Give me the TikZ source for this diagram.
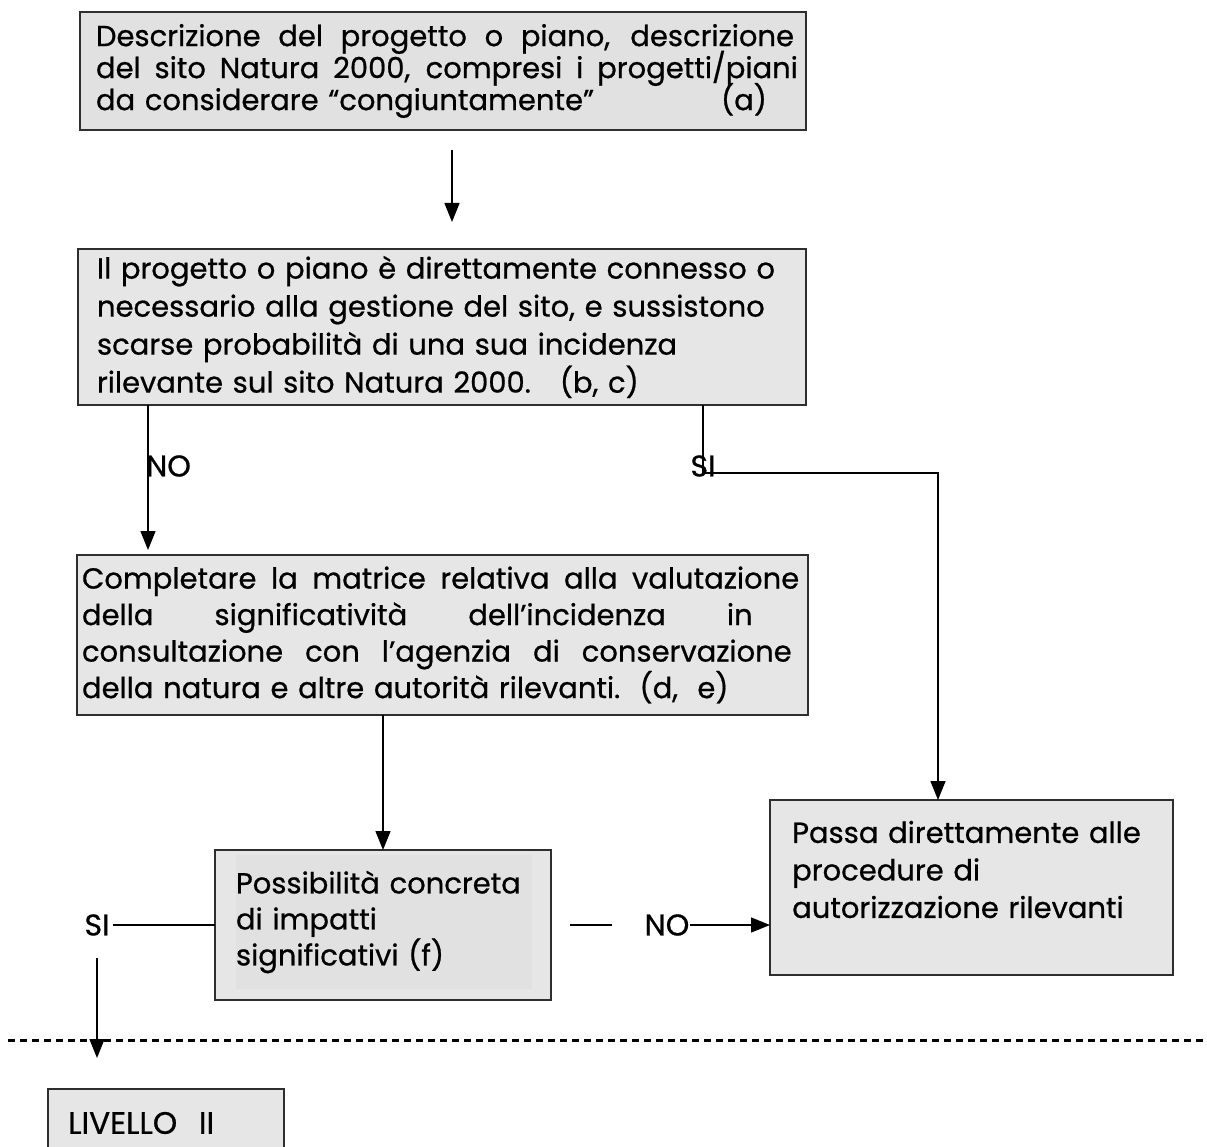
\documentclass[tikz,border=0pt]{standalone}
\usepackage{fontspec}
\setmainfont{Poppins}[FakeBold=0.7]
\usetikzlibrary{arrows.meta}
\definecolor{boxfill}{HTML}{E6E6E6}
\definecolor{innerfill}{HTML}{E1E1E1}
\definecolor{boxline}{HTML}{2E2E2E}
\newcommand{\jline}[2]{\makebox[#1][l]{\spaceskip=\fontdimen2\font plus 1fil\relax #2}}
\newcommand{\fs}[2]{\fontsize{#1}{#2}\selectfont\lineskiplimit=-100pt\relax}
\begin{document}
\begin{tikzpicture}[x=1pt,y=-1pt,
  box/.style={draw=boxline, line width=1.6pt, fill=boxfill, inner sep=0pt, align=left},
  conn/.style={line width=1.4pt, draw=black},
  arr/.style={conn, -{Triangle[width=15pt,length=19pt]}},
  lbl/.style={inner sep=0pt, font=\fs{30}{34}},
  txt/.style={inner sep=0pt, align=left}
]
\path[use as bounding box, clip] (0,0) rectangle (1207,1147);
\fill[white] (0,0) rectangle (1207,1147);

% boxes
\node[box, minimum width=726pt, minimum height=118pt, text width=702pt,
  font=\fs{29}{32}, fill=innerfill] (b1) at (443,71)
 {\hspace*{4pt}\jline{708pt}{Descrizione del progetto o piano, descrizione}\\
  \hspace*{4pt}\jline{708pt}{del sito Natura 2000, compresi i progetti/piani}\\
  \hspace*{4pt}\makebox[625pt][l]{da considerare “congiuntamente”}(a)};

\node[box, minimum width=728pt, minimum height=156pt, text width=690pt,
  font=\fs{29}{38}] (b2) at (442,327)
 {Il progetto o piano è direttamente connesso o\\
  necessario alla gestione del sito, e sussistono\\
  scarse probabilità di una sua incidenza\\
  rilevante sul sito Natura 2000.\ \ \ (b, c)};

\node[box, minimum width=731pt, minimum height=160pt, text width=718pt,
  font=\fs{29}{36.5}] (b3) at (442.5,635)
 {\hspace*{-1.5pt}\jline{724pt}{Completare la matrice relativa alla valutazione}\\
  \hspace*{-1.5pt}\jline{724pt}{della significatività dell’incidenza in}\\
  \hspace*{-1.5pt}\jline{724pt}{consultazione con l’agenzia di conservazione}\\
  \hspace*{-1.5pt}della natura e altre autorità rilevanti.\ \ (d,\ \ e)};

\node[box, minimum width=336pt, minimum height=150pt] (b4) at (383,925) {};
\node[txt, fill=innerfill, minimum width=296pt, minimum height=134pt, text width=296pt,
  font=\fs{29}{36}] (b4t) at (384,922)
 {Possibilità concreta\\
  di impatti\\
  significativi (f)};

\node[box, minimum width=403pt, minimum height=175pt] (b5) at (971.5,887.5) {};
\node[txt, anchor=west, text width=370pt, font=\fs{29}{37.5}] (b5t) at (792,869.5)
 {Passa direttamente alle\\
  procedure di\\
  autorizzazione rilevanti};

\node[box, anchor=north west, minimum width=236pt, minimum height=60pt] (b6) at (47,1088) {};
\node[inner sep=0pt, anchor=west, font=\fs{31}{34}] (b6t) at (68,1123) {LIVELLO\ \ \,II};

% coordinates
\coordinate (a1s) at (452,150);
\coordinate (a1e) at (452,222);
\coordinate (noA) at (148,405);
\coordinate (noB) at (148,550);
\coordinate (siA) at (703,405);
\coordinate (siB) at (703,473);
\coordinate (siC) at (938,473);
\coordinate (siD) at (938,800);
\coordinate (c3a) at (383,715);
\coordinate (c3b) at (383,850);
\coordinate (l4a) at (215,925);
\coordinate (l4b) at (113,925);
\coordinate (d4a) at (97,958);
\coordinate (d4b) at (97,1058);
\coordinate (r4a) at (570,925);
\coordinate (r4b) at (612,925);
\coordinate (r4c) at (690,925);
\coordinate (r4d) at (770,925);
\coordinate (dl) at (8,1040);
\coordinate (dr) at (1207,1040);

% labels
\node[lbl, anchor=west] (lno1) at (146,466) {NO};
\node[lbl] (lsi1) at (703,466) {SI};
\node[lbl] (lsi2) at (97,925) {SI};
\node[lbl] (lno2) at (667,925) {NO};

% connectors
\draw[arr] (a1s) -- (a1e);
\draw[arr] (noA) -- (noB);
\draw[arr] (siA) -- (siB) -- (siC) -- (siD);
\draw[arr] (c3a) -- (c3b);
\draw[conn] (l4a) -- (l4b);
\draw[conn] (r4a) -- (r4b);
\draw[arr] (r4c) -- (r4d);
\draw[line width=3pt, dash pattern=on 7pt off 5pt] (dl) -- (dr);
\draw[arr] (d4a) -- (d4b);
\end{tikzpicture}
\end{document}
